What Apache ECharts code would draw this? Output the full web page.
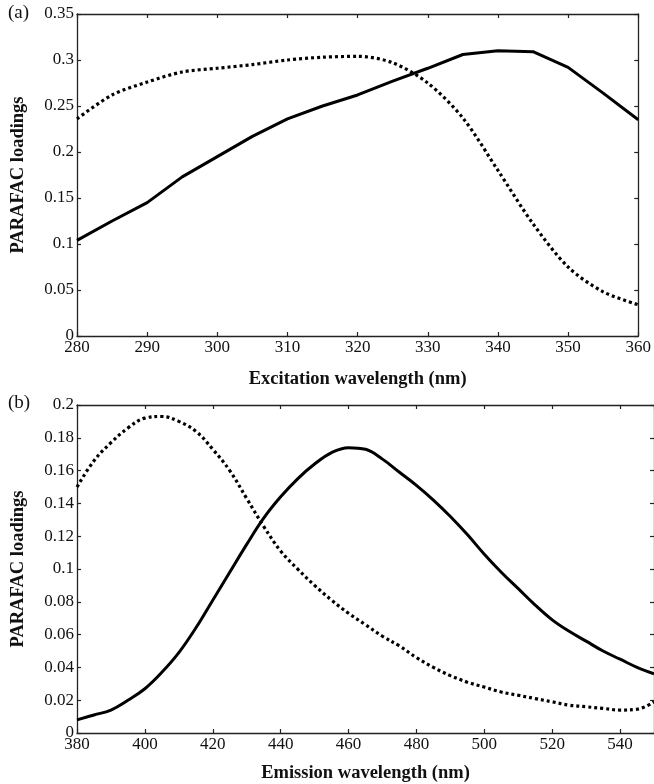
<!DOCTYPE html>
<html>
<head>
<meta charset="utf-8">
<script src="https://cdn.jsdelivr.net/npm/echarts@6/dist/echarts.min.js"></script>
<style>
  html, body { margin: 0; padding: 0; background: #fff; }
  #main { width: 654px; height: 784px; }
</style>
</head>
<body>
<div id="main"></div>
<script>
// Excitation panel (a)
var exWave = [280, 285, 290, 295, 300, 305, 310, 315, 320, 325, 330, 335, 340, 345, 350, 355, 360];
var exSolid = [0.104, 0.125, 0.145, 0.173, 0.195, 0.217, 0.236, 0.250, 0.262, 0.277, 0.291, 0.306, 0.310, 0.309, 0.292, 0.264, 0.235];
var exDotted = [0.236, 0.262, 0.276, 0.287, 0.291, 0.295, 0.300, 0.303, 0.304, 0.297, 0.275, 0.237, 0.180, 0.122, 0.075, 0.048, 0.034];

// Emission panel (b)
var emWave = [380, 385, 390, 395, 400, 405, 410, 415, 420, 425, 430, 435, 440, 445, 450, 455, 460, 465,
  470, 475, 480, 485, 490, 495, 500, 505, 510, 515, 520, 525, 530, 535, 540, 545, 550];
var emSolid = [0.008, 0.011, 0.014, 0.020, 0.027, 0.037, 0.049, 0.064, 0.081, 0.098, 0.115, 0.131, 0.144, 0.155, 0.164, 0.171, 0.174, 0.173,
  0.167, 0.159, 0.151, 0.142, 0.132, 0.121, 0.109, 0.098, 0.088, 0.078, 0.069, 0.062, 0.056, 0.050, 0.045, 0.040, 0.036];
var emDotted = [0.150, 0.166, 0.177, 0.186, 0.192, 0.193, 0.190, 0.184, 0.173, 0.160, 0.143, 0.126, 0.111, 0.100, 0.090, 0.081, 0.073, 0.066,
  0.059, 0.053, 0.046, 0.040, 0.035, 0.031, 0.028, 0.025, 0.023, 0.021, 0.019, 0.017, 0.016, 0.015, 0.014, 0.0145, 0.019];

var serif = '"Liberation Serif", "DejaVu Serif", serif';

function pairs(xs, ys) {
  return xs.map(function (x, i) { return [x, ys[i]]; });
}

function axisLineStyle() {
  return { show: true, onZero: false, lineStyle: { color: '#222', width: 1.3 } };
}

function tickStyle() {
  return { show: true, inside: true, length: 4, lineStyle: { color: '#222', width: 1.2 } };
}

function xAxes(gi, min, max, step, title, gap) {
  return [{
    type: 'value', gridIndex: gi, min: min, max: max, interval: step,
    position: 'bottom',
    name: title, nameLocation: 'middle', nameGap: gap,
    nameTextStyle: { fontFamily: serif, fontWeight: 'bold', fontSize: 18.5, color: '#111' },
    axisLine: axisLineStyle(), axisTick: tickStyle(),
    axisLabel: { fontFamily: serif, fontSize: 17, color: '#111', margin: 3, showMaxLabel: gi === 0 },
    splitLine: { show: false }
  }, {
    type: 'value', gridIndex: gi, min: min, max: max, interval: step,
    position: 'top',
    axisLine: axisLineStyle(), axisTick: tickStyle(),
    axisLabel: { show: false }, splitLine: { show: false }
  }];
}

function yAxes(gi, max, step) {
  return [{
    type: 'value', gridIndex: gi, min: 0, max: max, interval: step,
    position: 'left',
    name: 'PARAFAC loadings', nameLocation: 'middle', nameGap: 49,
    nameTextStyle: { fontFamily: serif, fontWeight: 'bold', fontSize: 18.5, color: '#111' },
    axisLine: axisLineStyle(), axisTick: tickStyle(),
    axisLabel: { fontFamily: serif, fontSize: 17, color: '#111', margin: 3 },
    splitLine: { show: false }
  }, {
    type: 'value', gridIndex: gi, min: 0, max: max, interval: step,
    position: 'right',
    axisLine: axisLineStyle(), axisTick: tickStyle(),
    axisLabel: { show: false }, splitLine: { show: false }
  }];
}

function solidLine(xi, yi, data, smooth) {
  return {
    type: 'line', xAxisIndex: xi, yAxisIndex: yi, data: data, smooth: smooth,
    showSymbol: false, silent: true,
    lineStyle: { color: '#000', width: 3 }
  };
}

function dottedLine(xi, yi, data, smooth) {
  return {
    type: 'line', xAxisIndex: xi, yAxisIndex: yi, data: data, smooth: smooth,
    showSymbol: false, silent: true,
    lineStyle: { color: '#000', width: 3.2, type: [3, 3], cap: 'butt' }
  };
}

var chart = echarts.init(document.getElementById('main'));

chart.setOption({
  backgroundColor: '#fff',
  animation: false,
  grid: [
    { left: 77, top: 14, width: 564, height: 322 },
    { left: 77, top: 405, width: 577, height: 331 }
  ],
  xAxis: xAxes(0, 280, 360, 10, 'Excitation wavelength (nm)', 34)
    .concat(xAxes(1, 380, 550, 20, 'Emission wavelength (nm)', 31)),
  yAxis: yAxes(0, 0.35, 0.05).concat(yAxes(1, 0.2, 0.02)),
  graphic: [
    { type: 'text', left: 8, top: 4, style: { text: '(a)', font: '19px ' + serif, fill: '#111' } },
    { type: 'text', left: 8, top: 394, style: { text: '(b)', font: '19px ' + serif, fill: '#111' } }
  ],
  series: [
    solidLine(0, 0, pairs(exWave, exSolid), false),
    dottedLine(0, 0, pairs(exWave, exDotted), 0.3),
    solidLine(2, 2, pairs(emWave, emSolid), 0.4),
    dottedLine(2, 2, pairs(emWave, emDotted), 0.4)
  ]
});
</script>
</body>
</html>
